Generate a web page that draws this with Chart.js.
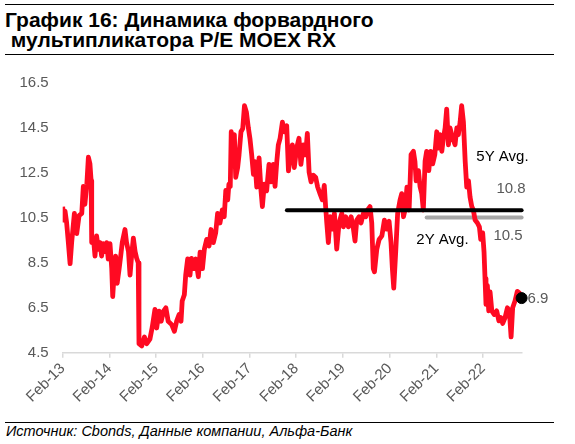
<!DOCTYPE html>
<html>
<head>
<meta charset="utf-8">
<script src="https://cdn.jsdelivr.net/npm/chart.js@4.4.0/dist/chart.umd.min.js"></script>
<style>
    body { margin: 0; width: 575px; height: 444px; background: #fff; position: relative; overflow: hidden;
           font-family: "Liberation Sans", Arial, sans-serif; }
    .rule { position: absolute; left: 5px; width: 549px; height: 0; border-top: 1.5px solid #000; }
    #title { position: absolute; left: 5px; top: 9.5px; font-weight: bold; font-size: 21px; line-height: 20px;
             color: #000; white-space: pre; }
    #source { position: absolute; left: 6px; top: 424px; font-style: italic; font-size: 14.5px; line-height: 15px;
              color: #000; white-space: nowrap; }
    #wrap { position: absolute; left: 0; top: 60px; width: 575px; height: 360px; }
</style>
</head>
<body>
<div class="rule" style="top:4px"></div>
<div id="title">График 16: Динамика форвардного
 мультипликатора P/E MOEX RX</div>
<div class="rule" style="top:54px"></div>
<div id="wrap"><canvas id="myChart"></canvas></div>
<div class="rule" style="top:422px"></div>
<div id="source">Источник: Cbonds, Данные компании, Альфа-Банк</div>

<script>
// months counted from Feb-2013
var months = [0, 0.15, 0.6, 1.0, 1.45, 1.9, 2.3, 3.0, 3.6, 4.2, 4.9, 5.3, 5.7, 6.2, 6.6, 7.0, 7.3, 7.45, 7.9, 8.3,
    8.7, 9.2, 9.6, 10.0, 10.4, 10.9, 11.3, 11.7, 12.15, 12.6, 12.85, 13.3, 13.6, 14.0, 14.5, 14.9, 15.3, 16.0, 16.4, 16.9,
    17.3, 17.7, 18.15, 18.6, 19.0, 19.4, 19.6, 20.3, 21.0, 21.6, 22.4, 23.0, 23.7, 24.15, 24.75, 25.3, 25.9, 26.5, 27.1, 28.0,
    28.7, 29.3, 29.9, 30.4, 30.7, 31.25, 31.6, 32.1, 32.7, 33.1, 33.6, 34.2, 34.85, 35.3, 35.9, 36.4, 37.0, 37.6, 38.1, 38.7,
    39.3, 39.8, 40.4, 41.0, 41.5, 41.9, 42.4, 42.7, 43.05, 43.3, 43.8, 44.1, 44.45, 44.95, 45.3, 45.8, 46.25, 46.7, 47.2, 47.7,
    48.1, 48.55, 49.0, 49.4, 49.85, 50.45, 50.95, 51.3, 51.8, 52.4, 53.0, 53.5, 54.1, 54.55, 55.0, 55.4, 55.85, 56.45, 56.95, 57.55,
    58.0, 58.4, 59.0, 59.5, 60.1, 60.7, 61.2, 61.8, 62.4, 62.85, 63.3, 63.8, 64.4, 65.0, 65.5, 66.1, 66.7, 67.2, 67.55, 67.85,
    68.25, 68.7, 69.3, 69.8, 70.4, 71.0, 71.7, 72.1, 72.7, 73.4, 74.1, 74.7, 75.1, 75.55, 76.15, 76.65, 77.25, 77.85, 78.35, 78.95,
    79.4, 79.8, 80.1, 80.7, 81.3, 82.0, 82.65, 83.25, 83.85, 84.35, 84.7, 85.05, 85.55, 86.05, 86.65, 87.1, 87.55, 87.95, 88.45, 89.0,
    89.5, 90.1, 90.5, 90.8, 91.4, 91.8, 92.25, 92.65, 93.1, 93.5, 94.05, 94.55, 95.05, 95.6, 96.1, 96.5, 96.95, 97.4, 97.8, 98.25,
    98.65, 99.1, 99.5, 100.2, 100.8, 101.25, 101.65, 102.1, 102.5, 102.95, 103.4, 103.8, 104.25, 104.65, 105.1, 105.5, 105.95, 106.55, 107.05, 107.4,
    107.9, 108.25, 108.5, 108.75, 109.1, 109.45, 109.8, 110.25, 110.85, 111.5, 112.05, 112.55, 113.05, 113.65, 114.25, 114.75, 115.2, 115.6, 116.2, 116.8,
    117.35, 117.9];

var peValues = [11.0, 10.4, 10.8, 10.3, 9.4, 8.46, 9.4, 10.7, 9.8, 10.6, 10.7, 11.9, 11.1, 12.0, 13.2, 12.9, 12.15, 9.4, 9.6, 8.8,
    9.7, 9.1, 9.4, 8.8, 9.35, 9.0, 9.4, 8.67, 9.35, 8.24, 7.0, 8.24, 8.8, 7.59, 8.24, 8.8, 9.4, 9.98, 9.4, 9.0,
    7.95, 8.8, 9.6, 9.0, 8.7, 8.5, 4.9, 4.8, 5.2, 4.9, 5.1, 5.63, 6.43, 5.6, 6.35, 5.9, 6.35, 6.5, 5.9, 5.75,
    5.45, 5.92, 6.2, 5.9, 6.8, 7.08, 7.95, 8.67, 7.95, 8.7, 8.24, 8.67, 7.88, 8.97, 8.24, 9.11, 9.54, 9.25, 9.98, 9.4,
    9.83, 10.7, 10.27, 10.85, 10.55, 11.72, 11.3, 12.0, 11.9, 14.33, 13.46, 14.2, 12.3, 12.74, 13.3, 14.33, 14.47, 15.49, 15.2, 14.5,
    14.04, 13.31, 12.44, 13.0, 11.87, 13.17, 11.7, 11.0, 12.0, 11.7, 12.88, 12.1, 12.88, 11.9, 13.0, 13.75, 14.04, 14.76, 14.33, 14.6,
    12.59, 13.17, 13.75, 12.74, 13.6, 14.04, 12.88, 13.75, 13.3, 14.26, 12.54, 12.1, 12.4, 12.3, 11.87, 11.58, 11.3, 11.94, 11.0, 10.27,
    9.4, 10.55, 10.0, 10.7, 9.11, 10.27, 10.7, 10.1, 10.55, 10.1, 10.55, 10.0, 9.47, 10.4, 10.55, 10.27, 10.7, 10.55, 10.85, 11.0,
    10.27, 8.24, 8.1, 9.11, 9.54, 9.7, 10.4, 10.0, 10.35, 9.4, 8.24, 7.37, 8.97, 10.7, 11.28, 11.58, 10.55, 10.85, 11.87, 10.85,
    13.31, 13.46, 13.0, 12.15, 12.6, 11.9, 11.57, 10.85, 13.02, 13.46, 12.6, 13.46, 12.9, 13.31, 14.33, 13.6, 14.2, 13.46, 14.04, 14.5,
    15.34, 13.75, 14.5, 14.04, 13.75, 14.5, 14.2, 14.76, 15.49, 14.76, 13.02, 11.87, 12.15, 11.43, 11.0, 10.85, 10.4, 10.27, 10.1, 9.54,
    9.83, 8.97, 7.8, 6.65, 7.5, 6.36, 7.2, 6.36, 6.2, 6.36, 5.92, 6.06, 5.8, 6.06, 6.5, 6.36, 5.2, 6.5, 6.8, 7.23,
    7.15, 6.93];

var avg5Y = 10.84, avg5YFrom = 57.6;
var avg2Y = 10.52, avg2YFrom = 93.5;
var xTickLabels = ['Feb-13', 'Feb-14', 'Feb-15', 'Feb-16', 'Feb-17', 'Feb-18', 'Feb-19', 'Feb-20', 'Feb-21', 'Feb-22'];
var yTicks = [4.5, 6.5, 8.5, 10.5, 12.5, 14.5, 16.5];

var lastMonth = months[months.length - 1];
var lastValue = peValues[peValues.length - 1];

var peData = [];
for (var i = 0; i < months.length; i++) {
    peData.push({x: months[i], y: peValues[i]});
}

var labelPlugin = {
    id: 'avgLabels',
    afterDatasetsDraw: function(chart) {
        var ctx = chart.ctx;
        var xs = chart.scales.x, ys = chart.scales.y;
        var right = xs.getPixelForValue(lastMonth);
        ctx.save();
        ctx.font = '15px "Liberation Sans", Arial, sans-serif';
        ctx.textBaseline = 'middle';
        ctx.textAlign = 'right';
        ctx.fillStyle = '#000';
        ctx.fillText('5Y Avg.', right + 7, ys.getPixelForValue(avg5Y) - 53);
        ctx.fillText('2Y Avg.', right - 53, ys.getPixelForValue(avg2Y) + 22);
        ctx.fillStyle = '#595959';
        ctx.fillText(avg5Y.toFixed(1), right + 4, ys.getPixelForValue(avg5Y) - 21);
        ctx.fillText(avg2Y.toFixed(1), right + 1, ys.getPixelForValue(avg2Y) + 18);
        ctx.textAlign = 'left';
        ctx.fillText(lastValue.toFixed(1), right + 6, ys.getPixelForValue(lastValue) + 1);
        ctx.restore();
    }
};

var ctx = document.getElementById('myChart');
var chart = new Chart(ctx, {
    type: 'line',
    data: {
        datasets: [{
            data: [{x: lastMonth, y: lastValue}],
            showLine: false,
            clip: false,
            pointRadius: 5.5,
            pointBackgroundColor: '#000',
            pointBorderColor: '#000',
            order: 0
        }, {
            data: [{x: avg5YFrom, y: avg5Y}, {x: lastMonth, y: avg5Y}],
            borderColor: '#000',
            borderWidth: 4,
            borderCapStyle: 'round',
            clip: false,
            pointRadius: 0,
            order: 1
        }, {
            data: peData,
            borderColor: '#ff0a22',
            borderWidth: 4.8,
            borderJoinStyle: 'round',
            pointRadius: 0,
            order: 2
        }, {
            data: [{x: avg2YFrom, y: avg2Y}, {x: lastMonth, y: avg2Y}],
            borderColor: '#a6a6a6',
            borderWidth: 4,
            borderCapStyle: 'round',
            clip: false,
            pointRadius: 0,
            order: 3
        }]
    },
    options: {
        responsive: true,
        maintainAspectRatio: false,
        animation: false,
        layout: {padding: {top: 16.7, right: 53, bottom: 0, left: 0}},
        plugins: {legend: {display: false}, tooltip: {enabled: false}},
        scales: {
            x: {
                type: 'linear',
                min: 0,
                max: 118,
                afterFit: function(scale) { scale.height = 67.3; },
                afterBuildTicks: function(scale) {
                    scale.ticks = xTickLabels.map(function(l, i) { return {value: i * 12}; });
                },
                ticks: {
                    autoSkip: false,
                    maxRotation: 45,
                    minRotation: 45,
                    padding: 2,
                    color: '#595959',
                    font: {family: '"Liberation Sans", Arial, sans-serif', size: 15},
                    callback: function(v) { return xTickLabels[Math.round(v / 12)]; }
                },
                grid: {drawOnChartArea: false, drawTicks: true, tickLength: 5, color: '#d9d9d9', lineWidth: 1.5},
                border: {color: '#d9d9d9', width: 1.5}
            },
            y: {
                min: 4.5,
                max: 16.5,
                afterFit: function(scale) { scale.width = 62.7; },
                afterBuildTicks: function(scale) {
                    scale.ticks = yTicks.map(function(v) { return {value: v}; });
                },
                ticks: {
                    padding: 14,
                    color: '#595959',
                    font: {family: '"Liberation Sans", Arial, sans-serif', size: 15},
                    callback: function(v) { return v.toFixed(1); }
                },
                grid: {display: false, drawTicks: false},
                border: {display: false}
            }
        }
    },
    plugins: [labelPlugin]
});
</script>
</body>
</html>
